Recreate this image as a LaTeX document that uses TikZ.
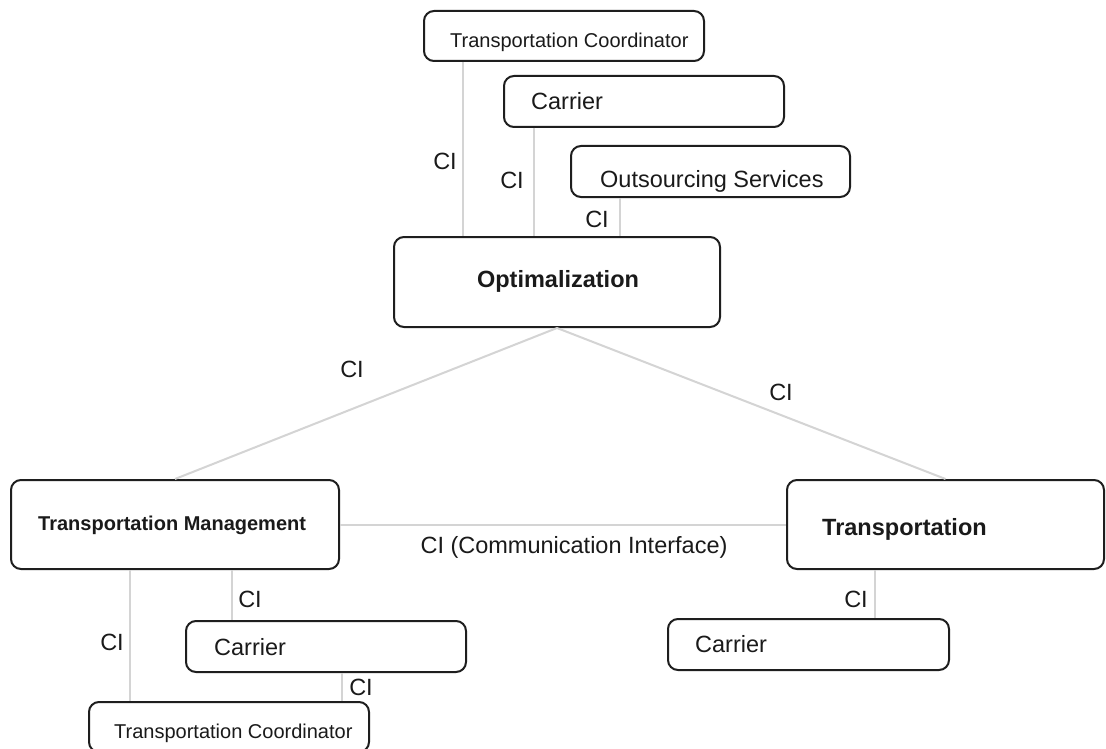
\documentclass[tikz,border=0pt]{standalone}
\usepackage{fontspec}
\setmainfont{Liberation Sans}
\begin{document}
\begin{tikzpicture}[x=1pt,y=-1pt,
  box/.style={draw=boxc, line width=2pt, rounded corners=10pt, inner sep=0pt},
  link/.style={draw=linkc, line width=2pt},
  txt/.style={inner sep=0pt, anchor=base west, text=textc, font=\fontsize{23.5}{28}\selectfont},
  smalltxt/.style={txt, font=\fontsize{20}{24}\selectfont},
  bold/.style={txt, font=\fontsize{23.5}{28}\selectfont\bfseries},
  smallbold/.style={txt, font=\fontsize{20}{24}\selectfont\bfseries},
  ci/.style={txt, anchor=base}]
\definecolor{boxc}{HTML}{1E1E1E}
\definecolor{linkc}{HTML}{D4D4D4}
\definecolor{textc}{HTML}{1A1A1A}
\useasboundingbox (0,0) rectangle (1106,749);
\clip (0,0) rectangle (1106,749);
\fill[white] (0,0) rectangle (1106,749);
% boxes
\node[box, minimum width=280pt, minimum height=50pt] (tc1) at (564,36) {};
\node[box, minimum width=280pt, minimum height=51pt] (car1) at (644,101.5) {};
\node[box, minimum width=279pt, minimum height=51pt] (out) at (710.5,171.5) {};
\node[box, minimum width=326pt, minimum height=90pt] (opt) at (557,282) {};
\node[box, minimum width=328pt, minimum height=89pt] (tm) at (175,524.5) {};
\node[box, minimum width=317pt, minimum height=89pt] (tr) at (945.5,524.5) {};
\node[box, minimum width=280pt, minimum height=51pt] (car2) at (326,646.5) {};
\node[box, minimum width=280pt, minimum height=50pt] (tc2) at (229,727) {};
\node[box, minimum width=281pt, minimum height=51pt] (car3) at (808.5,644.5) {};
% texts
\node[smalltxt] (tc1t) at (450,48) {Transportation Coordinator};
\node[txt] (car1t) at (531,110) {Carrier};
\node[txt] (outt) at (600,187) {Outsourcing Services};
\node[bold, anchor=base] (optt) at (558,287) {Optimalization};
\node[smallbold] (tmt) at (38,530) {Transportation Management};
\node[bold] (trt) at (822,535) {Transportation};
\node[txt] (car2t) at (214,655) {Carrier};
\node[smalltxt] (tc2t) at (114,738) {Transportation Coordinator};
\node[txt] (car3t) at (695,652) {Carrier};
% connectors
\draw[link] ([xshift=-101pt]tc1.south) -- ([xshift=-94pt]opt.north);
\draw[link] ([xshift=-110pt]car1.south) -- ([xshift=-23pt]opt.north);
\draw[link] ([xshift=-90.5pt]out.south) -- ([xshift=63pt]opt.north);
\draw[link] (opt.south) -- (tm.north);
\draw[link] (opt.south) -- (tr.north);
\draw[link] (tm.east) -- (tr.west);
\draw[link] ([xshift=-45pt]tm.south) -- ([xshift=-99pt]tc2.north);
\draw[link] ([xshift=57pt]tm.south) -- ([xshift=-94pt]car2.north);
\draw[link] ([xshift=16pt]car2.south) -- ([xshift=113pt]tc2.north);
\draw[link] ([xshift=-70.5pt]tr.south) -- ([xshift=66.5pt]car3.north);
% labels
\node[ci] (l1) at (445,170) {CI};
\node[ci] (l2) at (512,188) {CI};
\node[ci] (l3) at (597,227) {CI};
\node[ci] (l4) at (352,377) {CI};
\node[ci] (l5) at (781,400) {CI};
\node[ci] (l6) at (574,553) {CI (Communication Interface)};
\node[ci] (l7) at (250,607) {CI};
\node[ci] (l8) at (112,650) {CI};
\node[ci] (l9) at (361,695) {CI};
\node[ci] (l10) at (856,607) {CI};
\end{tikzpicture}
\end{document}
